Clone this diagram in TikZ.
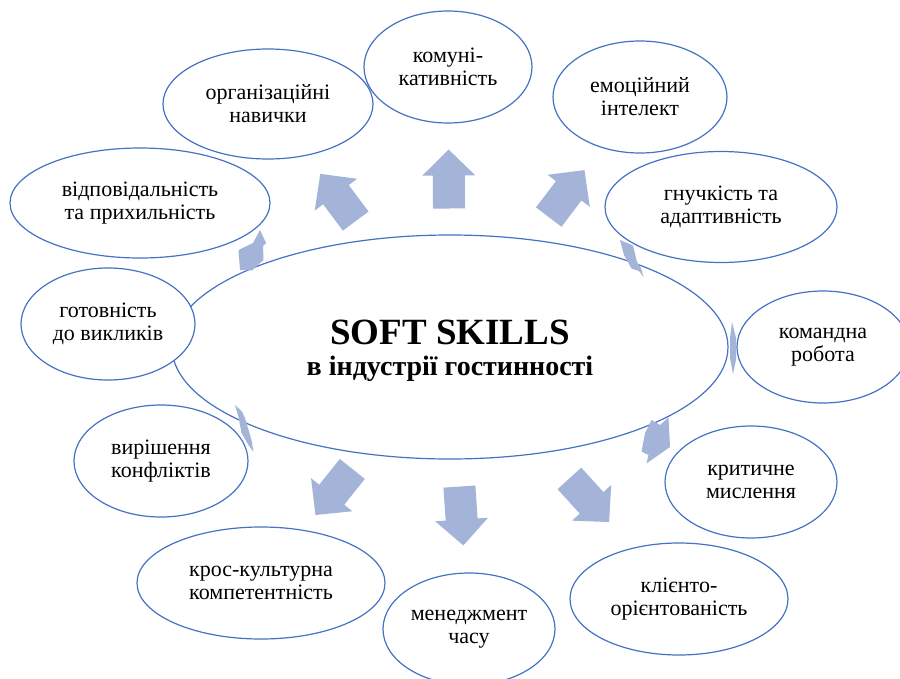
\documentclass[tikz,border=0pt]{standalone}
\usepackage{fontspec}
\setmainfont{Liberation Serif}
\usetikzlibrary{shapes.geometric,calc}
\pgfdeclarelayer{bg}
\pgfdeclarelayer{hubl}
\pgfdeclarelayer{mid}
\pgfsetlayers{bg,hubl,mid,main}
\definecolor{eblue}{RGB}{68,114,196}
\definecolor{afill}{RGB}{164,180,217}
\tikzset{
  skill/.style={ellipse, draw=eblue, line width=1.2pt, fill=white, inner sep=0pt,
    align=center, font=\fontsize{22}{23}\selectfont},
  hub/.style={ellipse, draw=eblue, line width=1.2pt, fill=white, inner sep=0pt},
  hubtext/.style={align=center, inner sep=0pt, font=\bfseries\fontsize{28}{31}\selectfont},
  blockarrow/.style={fill=afill}
}
\begin{document}
\begin{tikzpicture}[x=1pt,y=-1pt]
\useasboundingbox (0,0) rectangle (900,678);
\begin{pgfonlayer}{hubl}
\node[hub, minimum width=556pt, minimum height=224pt] (c) at (450,347) {};
\node[hubtext] (ct) at (450,351)
  {{\fontsize{37}{31}\selectfont SOFT SKILLS}\\в індустрії гостинності};
\end{pgfonlayer}
\node[skill, minimum width=210pt, minimum height=110pt] (o1) at (268,104) {організаційні\\навички};
\node[skill, minimum width=168pt, minimum height=112pt] (o2) at (448,67) {комуні-\\кативність};
\node[skill, minimum width=174pt, minimum height=112pt] (o3) at (640,97) {емоційний\\інтелект};
\node[skill, minimum width=260pt, minimum height=110pt] (o4) at (140,203) {відповідальність\\та прихильність};
\node[skill, minimum width=232pt, minimum height=111pt] (o5) at (721,207) {гнучкість та\\адаптивність};
\node[skill, minimum width=174pt, minimum height=112pt] (o6) at (108,324) {готовність\\до викликів};
\node[skill, minimum width=172pt, minimum height=112pt] (o7) at (823,347) {командна\\робота};
\node[skill, minimum width=174pt, minimum height=112pt] (o8) at (161,461) {вирішення\\конфліктів};
\node[skill, minimum width=172pt, minimum height=112pt] (o9) at (751,482) {критичне\\мислення};
\node[skill, minimum width=248pt, minimum height=112pt] (o10) at (261,583) {крос-культурна\\компетентність};
\node[skill, minimum width=172pt, minimum height=112pt] (o11) at (469,629) {менеджмент\\часу};
\node[skill, minimum width=218pt, minimum height=112pt] (o12) at (679,599) {клієнто-\\орієнтованість};
\begin{pgfonlayer}{bg}
\fill[white] (0,0) rectangle (900,678);
\foreach \i in {1,2,3,10,11,12}{
  \path (c) -- (o\i) coordinate[pos=.5] (m);
  \pgfmathanglebetweenpoints{\pgfpointanchor{c}{center}}{\pgfpointanchor{o\i}{center}}
  \edef\ang{\pgfmathresult}
  \fill[blockarrow, shift={(m)}, rotate=\ang]
    (-29.5,-16) -- (3.5,-16) -- (3.5,-26.5) -- (29.5,0) -- (3.5,26.5) -- (3.5,16) -- (-29.5,16) -- cycle;
}
\end{pgfonlayer}
\begin{pgfonlayer}{mid}
% squeezed arrows between touching ellipses
\fill[blockarrow] (260,230) -- (266,243) -- (263,246) -- (263.5,260) -- (252,270.5) -- (240,270) -- (238.5,250) -- (253,243) -- cycle;
\fill[blockarrow] (620,240) -- (633,245.5) -- (637,262) -- (641,268) -- (643.5,277) -- (639,271) -- (631.5,268.5) -- (624,255) -- cycle;
\fill[blockarrow] (732,322) -- (736,338) -- (736,360) -- (733,374) -- (730,358) -- (730,338) -- cycle;
\fill[blockarrow] (651.5,420) -- (660,425) -- (668.5,417.5) -- (670,447) -- (653.5,458.5) -- (646.5,463.5) -- (648.5,455) -- (641.5,451.5) -- (645,433) -- cycle;
\fill[blockarrow] (235,405) -- (242,411.5) -- (245,418) -- (251.5,440) -- (253.5,452) -- (248.5,445) -- (241.5,433) -- (238.5,417) -- cycle;
\end{pgfonlayer}
\end{tikzpicture}
\end{document}
